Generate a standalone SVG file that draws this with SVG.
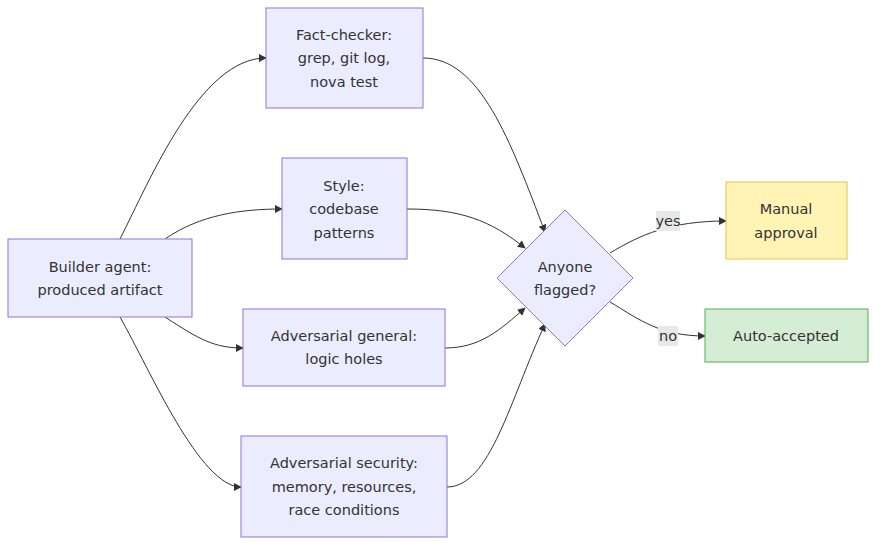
<svg xmlns="http://www.w3.org/2000/svg" width="884" height="550" viewBox="0 0 884 550">
<defs>
<style>
.n{fill:#ececff;stroke:#9370db;stroke-width:1}
.t{font-family:"DejaVu Sans","Liberation Sans",sans-serif;font-size:14.5px;fill:#333;text-anchor:middle}
.e{fill:none;stroke:#333;stroke-width:1}
.lb{fill:#e8e8e8}
</style>
<marker id="a" viewBox="0 0 10 10" refX="9" refY="5" markerWidth="8" markerHeight="8" orient="auto"><path d="M0,0L10,5L0,10z" fill="#333"/></marker>
</defs>
<rect width="884" height="550" fill="#fff"/>
<g id="connectors">
<path class="e" marker-end="url(#a)" d="M120,239 C150,180 200,58 266,58"/>
<path class="e" marker-end="url(#a)" d="M165,239 C200,215 240,209 282,209"/>
<path class="e" marker-end="url(#a)" d="M165,317 C200,340 215,348 243,348"/>
<path class="e" marker-end="url(#a)" d="M120,317 C150,370 200,487 241,487"/>
<path class="e" marker-end="url(#a)" d="M423,58 C480,58 510,140 545,232"/>
<path class="e" marker-end="url(#a)" d="M407,209 C460,209 490,220 525,248"/>
<path class="e" marker-end="url(#a)" d="M445,348 C480,348 500,330 525,308"/>
<path class="e" marker-end="url(#a)" d="M447,487 C490,487 510,400 545,324"/>
<path class="e" marker-end="url(#a)" d="M610,253 C640,235 670,221 726,221"/>
<path class="e" marker-end="url(#a)" d="M610,302 C640,320 660,336 705,336"/>
<rect class="lb" x="656" y="211" width="24" height="20"/>
<text class="t" x="668" y="226">yes</text>
<rect class="lb" x="658" y="326" width="20" height="20"/>
<text class="t" x="668" y="341">no</text>
</g>
<g id="builder"><rect class="n" x="8" y="239" width="184" height="78"/><text class="t" x="100" y="272">Builder agent:</text><text class="t" x="100" y="295">produced artifact</text></g>
<g id="fact"><rect class="n" x="266" y="8" width="157" height="100"/><text class="t" x="344" y="40">Fact-checker:</text><text class="t" x="344" y="63">grep, git log,</text><text class="t" x="344" y="87">nova test</text></g>
<g id="style"><rect class="n" x="282" y="158" width="125" height="101"/><text class="t" x="344" y="191">Style:</text><text class="t" x="344" y="214">codebase</text><text class="t" x="344" y="238">patterns</text></g>
<g id="advgen"><rect class="n" x="243" y="309" width="202" height="77"/><text class="t" x="344" y="341">Adversarial general:</text><text class="t" x="344" y="364">logic holes</text></g>
<g id="advsec"><rect class="n" x="241" y="436" width="206" height="101"/><text class="t" x="344" y="468">Adversarial security:</text><text class="t" x="344" y="492">memory, resources,</text><text class="t" x="344" y="515">race conditions</text></g>
<g id="decision"><polygon class="n" points="565,210 633,278 565,346 497,278"/><text class="t" x="565" y="272">Anyone</text><text class="t" x="565" y="295">flagged?</text></g>
<g id="manual"><rect x="726" y="182" width="121" height="77" fill="#fff4b3" stroke="#e6c24d"/><text class="t" x="786" y="214">Manual</text><text class="t" x="786" y="238">approval</text></g>
<g id="auto"><rect x="705" y="309" width="163" height="53" fill="#d5ecd5" stroke="#4caf50"/><text class="t" x="786" y="341">Auto-accepted</text></g>
</svg>
